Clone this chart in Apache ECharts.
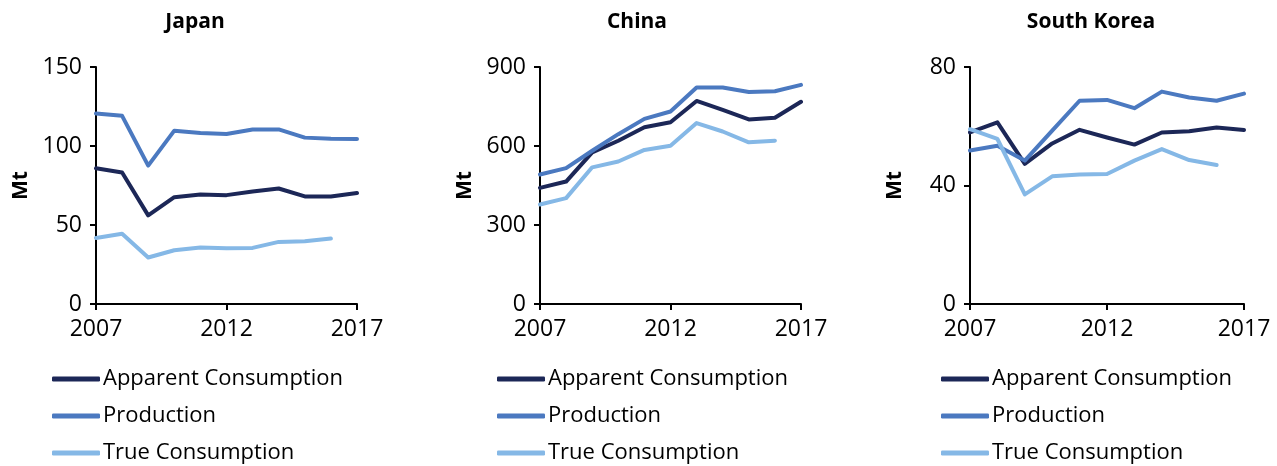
<!DOCTYPE html>
<html><head><meta charset="utf-8">
<script src="https://cdn.jsdelivr.net/npm/echarts@6/dist/echarts.min.js"></script>
<style>html,body{margin:0;padding:0;background:#fff}#c{width:1277px;height:466px}</style>
</head><body><div id="c"></div>
<script>
const years = ['2007','2008','2009','2010','2011','2012','2013','2014','2015','2016','2017'];
const seriesNames = ['Apparent Consumption','Production','True Consumption'];
const panelTitles = ['Japan','China','South Korea'];
const yUnit = 'Mt';

const japanApparent = [85.9, 83.2, 56.1, 67.6, 69.3, 68.9, 71.2, 73.1, 68.1, 68.1, 70.2];
const japanProduction = [120.6, 119.1, 87.6, 109.7, 108.2, 107.6, 110.5, 110.5, 105.3, 104.6, 104.4];
const japanTrue = [41.8, 44.5, 29.4, 34.0, 35.7, 35.3, 35.5, 39.3, 39.7, 41.4, null];

const chinaApparent = [441, 465, 576, 620, 671, 690, 771, 737, 701, 707, 768];
const chinaProduction = [492, 516, 582, 645, 703, 731, 822, 822, 805, 808, 832];
const chinaTrue = [378, 402, 519, 541, 585, 601, 687, 655, 614, 620, null];

const koreaApparent = [57.9, 61.3, 47.3, 54.2, 58.8, 56.2, 53.8, 57.9, 58.3, 59.6, 58.7];
const koreaProduction = [51.8, 53.4, 48.4, 58.5, 68.6, 68.9, 66.1, 71.7, 69.7, 68.6, 71.0];
const koreaTrue = [59.0, 55.7, 37.0, 43.1, 43.7, 43.9, 48.4, 52.3, 48.6, 46.9, null];

const yMax = [150, 900, 80];
const yInterval = [50, 300, 40];

const panelData = [
  [japanApparent, japanProduction, japanTrue],
  [chinaApparent, chinaProduction, chinaTrue],
  [koreaApparent, koreaProduction, koreaTrue]
];

const colors = ['#1c2757', '#4b79c0', '#85b8e6'];
const FONT = 'Open Sans';
const grids = [
  {left: 96, top: 67, width: 261, height: 237},
  {left: 540, top: 67, width: 261, height: 237},
  {left: 970, top: 67, width: 274, height: 237}
];
const titleCenters = [190, 632, 1086];
const legendLefts = [52, 497, 941];

const option = {
  animation: false,
  backgroundColor: '#fff',
  title: panelTitles.map((t, i) => ({
    text: t, left: titleCenters[i], top: 7, textAlign: 'center',
    textStyle: {fontFamily: FONT, fontWeight: 'bold', fontSize: 21, color: '#000'}
  })),
  legend: legendLefts.map(l => ({
    data: seriesNames, orient: 'vertical', left: l, top: 368, padding: 0,
    icon: 'roundRect', itemWidth: 48, itemHeight: 5, itemGap: 15,
    selectedMode: false,
    textStyle: {fontFamily: FONT, fontSize: 22, color: '#000', padding: [0,0,0,-2]}
  })),
  grid: grids.map(g => Object.assign({containLabel: false}, g)),
  xAxis: grids.map((g, i) => ({
    gridIndex: i, type: 'category', data: years, boundaryGap: false,
    axisLine: {lineStyle: {color: '#000', width: 2}},
    axisTick: {show: true, interval: 4, length: 6, lineStyle: {color: '#000', width: 2}},
    axisLabel: {interval: 4, fontFamily: FONT, fontSize: 23, color: '#000', margin: 14},
    splitLine: {show: false}
  })),
  yAxis: grids.map((g, i) => ({
    gridIndex: i, type: 'value', min: 0, max: yMax[i], interval: yInterval[i],
    name: yUnit, nameLocation: 'middle', nameGap: 64, nameRotate: 90,
    nameTextStyle: {fontFamily: FONT, fontWeight: 'bold', fontSize: 21, color: '#000'},
    axisLine: {show: true, lineStyle: {color: '#000', width: 2}},
    axisTick: {show: true, length: 6, lineStyle: {color: '#000', width: 2}},
    axisLabel: {fontFamily: FONT, fontSize: 23, color: '#000', margin: 14},
    splitLine: {show: false}
  })),
  series: []
};

panelData.forEach((arrs, p) => {
  arrs.forEach((d, s) => {
    option.series.push({
      name: seriesNames[s], type: 'line', xAxisIndex: p, yAxisIndex: p,
      data: d, symbol: 'none', showSymbol: false, connectNulls: false,
      color: colors[s],
      lineStyle: {width: 4, color: colors[s], join: 'round', cap: 'round'}
    });
  });
});

const chart = echarts.init(document.getElementById('c'), null, {renderer: 'canvas'});
chart.setOption(option);
</script></body></html>
